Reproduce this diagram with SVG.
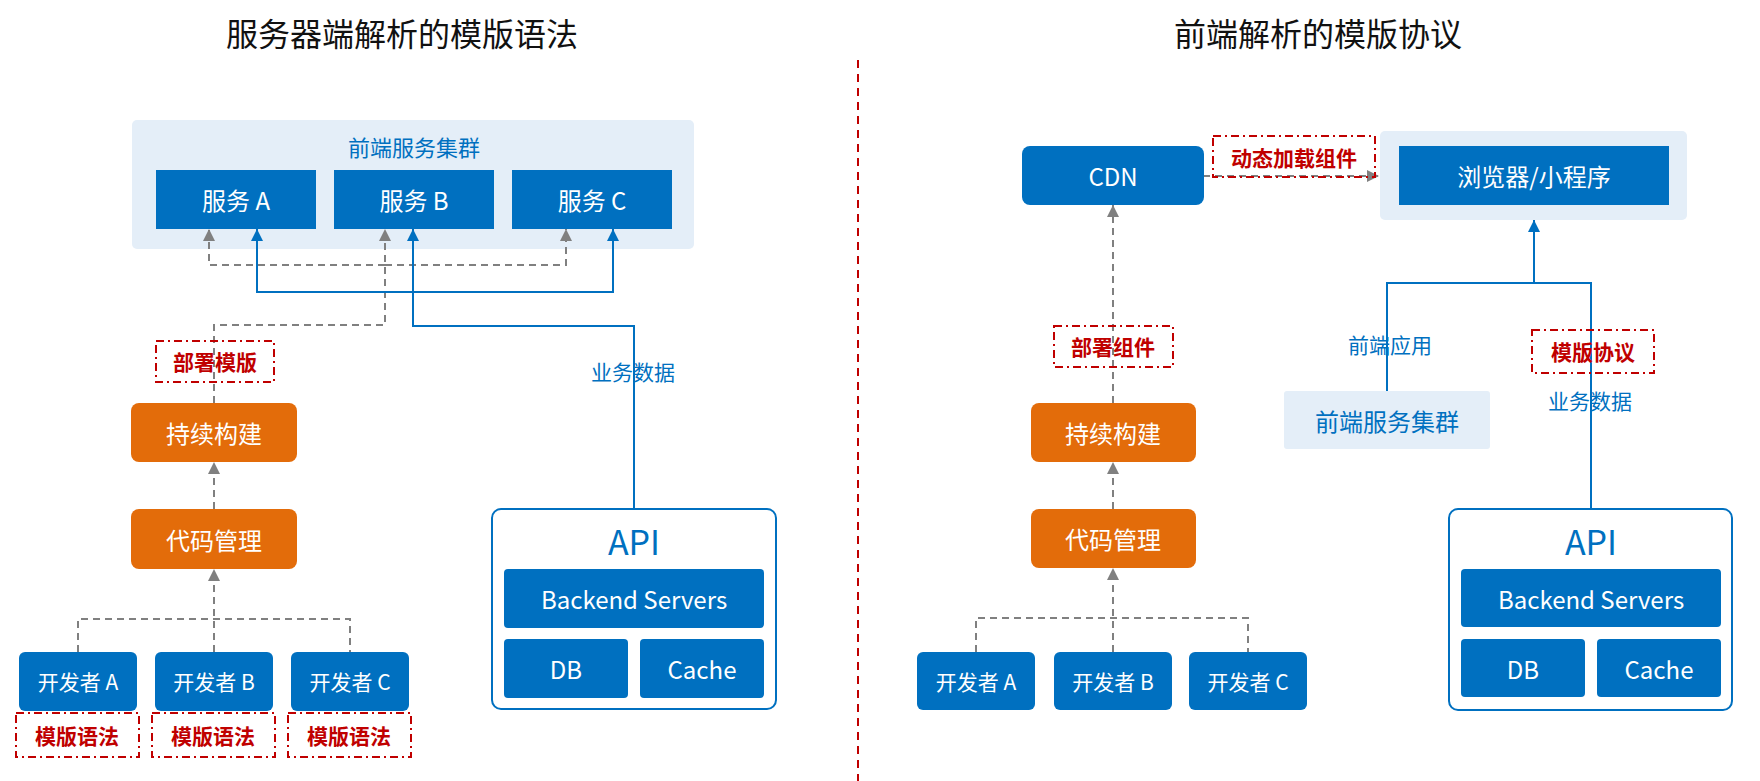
<svg xmlns="http://www.w3.org/2000/svg" width="1760" height="781" viewBox="0 0 1760 781">
<style>
text{font-family:"Noto Sans CJK SC","Noto Sans",sans-serif;text-anchor:middle;dominant-baseline:central}
.title{font-size:32px;fill:#111}
.blue{fill:#0070C0}
.orange{fill:#E36C0A}
.cluster{fill:#E4EEF8}
.wt{fill:#fff;font-size:24px}
.wt20{fill:#fff;font-size:21px}
.bt{fill:#0070C0;font-size:21px}
.red{fill:none;stroke:#C00000;stroke-width:2;stroke-dasharray:8 4 2 4}
.rt{fill:#C00000;font-size:21px;font-weight:bold}
.g{fill:none;stroke:#808080;stroke-width:2;stroke-dasharray:7 5}
.b{fill:none;stroke:#0070C0;stroke-width:2}
</style>
<defs>
<marker id="ag" viewBox="0 0 10 10" refX="10" refY="5" markerWidth="13" markerHeight="12" markerUnits="userSpaceOnUse" orient="auto"><path d="M0,0 L10,5 L0,10 z" fill="#808080"/></marker>
<marker id="ab" viewBox="0 0 10 10" refX="10" refY="5" markerWidth="13" markerHeight="12" markerUnits="userSpaceOnUse" orient="auto"><path d="M0,0 L10,5 L0,10 z" fill="#0070C0"/></marker>
</defs>
<rect width="1760" height="781" fill="#fff"/>
<text class="title" x="402" y="32">服务器端解析的模版语法</text>
<text class="title" x="1318" y="32">前端解析的模版协议</text>
<line x1="858" y1="60" x2="858" y2="781" stroke="#C00000" stroke-width="2" stroke-dasharray="8 6"/>

<g id="cluster-left">
<rect class="cluster" x="132" y="120" width="562" height="129" rx="5"/>
<text x="414" y="146" style="fill:#0070C0;font-size:22px">前端服务集群</text>
</g>
<g id="browser-cluster"><rect class="cluster" x="1380" y="131" width="307" height="89" rx="5"/></g>

<g id="connectors">
<path class="g" d="M214,403 V325 H385 V229" marker-end="url(#ag)"/>
<path class="g" d="M385,265 H209 V229" marker-end="url(#ag)"/>
<path class="g" d="M385,265 H566 V229" marker-end="url(#ag)"/>
<path class="b" d="M634,509 V326 H413 V229" marker-end="url(#ab)"/>
<path class="b" d="M413,292 H257 V229" marker-end="url(#ab)"/>
<path class="b" d="M413,292 H613 V229" marker-end="url(#ab)"/>
<path class="g" d="M214,509 V462" marker-end="url(#ag)"/>
<path class="g" d="M78,652 V619 H350 V652"/>
<path class="g" d="M214,652 V569" marker-end="url(#ag)"/>
<path class="g" d="M1113,403 V205" marker-end="url(#ag)"/>
<path class="g" d="M1113,509 V462" marker-end="url(#ag)"/>
<path class="g" d="M976,652 V618 H1248 V652"/>
<path class="g" d="M1113,652 V568" marker-end="url(#ag)"/>
<path class="g" d="M1203,176 H1379" marker-end="url(#ag)"/>
<path class="b" d="M1387,391 V283 H1591 V509"/>
<path class="b" d="M1534,283 V220" marker-end="url(#ab)"/>
<text class="bt" x="633" y="371">业务数据</text>
<text class="bt" x="1390" y="344">前端应用</text>
<text class="bt" x="1590" y="400">业务数据</text>
</g>

<g id="svc-a"><rect class="blue" x="156" y="170" width="160" height="59"/><text class="wt" x="236" y="199">服务 A</text></g>
<g id="svc-b"><rect class="blue" x="334" y="170" width="160" height="59"/><text class="wt" x="414" y="199">服务 B</text></g>
<g id="svc-c"><rect class="blue" x="512" y="170" width="160" height="59"/><text class="wt" x="592" y="199">服务 C</text></g>

<g id="label-deploy-tpl"><rect class="red" x="156" y="341" width="118" height="41"/><text class="rt" x="215" y="361">部署模版</text></g>
<g id="ci-left"><rect class="orange" x="131" y="403" width="166" height="59" rx="8"/><text class="wt" x="214" y="432">持续构建</text></g>
<g id="scm-left"><rect class="orange" x="131" y="509" width="166" height="60" rx="8"/><text class="wt" x="214" y="539">代码管理</text></g>

<g id="dev-a-left"><rect class="blue" x="19" y="652" width="118" height="59" rx="6"/><text class="wt20" x="78" y="681">开发者 A</text></g>
<g id="dev-b-left"><rect class="blue" x="155" y="652" width="118" height="59" rx="6"/><text class="wt20" x="214" y="681">开发者 B</text></g>
<g id="dev-c-left"><rect class="blue" x="291" y="652" width="118" height="59" rx="6"/><text class="wt20" x="350" y="681">开发者 C</text></g>
<g id="label-syntax-a"><rect class="red" x="16" y="713" width="123" height="44"/><text class="rt" x="77" y="735">模版语法</text></g>
<g id="label-syntax-b"><rect class="red" x="152" y="713" width="123" height="44"/><text class="rt" x="213" y="735">模版语法</text></g>
<g id="label-syntax-c"><rect class="red" x="288" y="713" width="123" height="44"/><text class="rt" x="349" y="735">模版语法</text></g>

<g id="api-left">
<rect x="492" y="509" width="284" height="200" rx="9" fill="#fff" stroke="#0070C0" stroke-width="2"/>
<text x="634" y="540" style="fill:#0070C0;font-size:34px">API</text>
<rect class="blue" x="504" y="569" width="260" height="59" rx="4"/><text class="wt" x="634" y="598">Backend Servers</text>
<rect class="blue" x="504" y="639" width="124" height="59" rx="4"/><text class="wt" x="566" y="668">DB</text>
<rect class="blue" x="640" y="639" width="124" height="59" rx="4"/><text class="wt" x="702" y="668">Cache</text>
</g>

<g id="cdn"><rect class="blue" x="1022" y="146" width="182" height="59" rx="8"/><text class="wt" x="1113" y="175">CDN</text></g>
<g id="label-dynamic"><rect class="red" x="1213" y="136" width="162" height="41"/><text class="rt" x="1294" y="157">动态加载组件</text></g>
<g id="browser"><rect class="blue" x="1399" y="146" width="270" height="59"/><text class="wt" x="1534" y="175">浏览器/小程序</text></g>

<g id="label-deploy-comp"><rect class="red" x="1054" y="326" width="119" height="41"/><text class="rt" x="1113" y="346">部署组件</text></g>
<g id="ci-right"><rect class="orange" x="1031" y="403" width="165" height="59" rx="8"/><text class="wt" x="1113" y="432">持续构建</text></g>
<g id="scm-right"><rect class="orange" x="1031" y="509" width="165" height="59" rx="8"/><text class="wt" x="1113" y="538">代码管理</text></g>
<g id="dev-a-right"><rect class="blue" x="917" y="652" width="118" height="58" rx="6"/><text class="wt20" x="976" y="681">开发者 A</text></g>
<g id="dev-b-right"><rect class="blue" x="1054" y="652" width="118" height="58" rx="6"/><text class="wt20" x="1113" y="681">开发者 B</text></g>
<g id="dev-c-right"><rect class="blue" x="1189" y="652" width="118" height="58" rx="6"/><text class="wt20" x="1248" y="681">开发者 C</text></g>

<g id="frontend-cluster-right"><rect class="cluster" x="1284" y="391" width="206" height="58" rx="3"/><text x="1387" y="420" style="fill:#0070C0;font-size:24px">前端服务集群</text></g>
<g id="label-protocol"><rect class="red" x="1532" y="330" width="122" height="43"/><text class="rt" x="1593" y="351">模版协议</text></g>

<g id="api-right">
<rect x="1449" y="509" width="283" height="201" rx="9" fill="#fff" stroke="#0070C0" stroke-width="2"/>
<text x="1591" y="540" style="fill:#0070C0;font-size:34px">API</text>
<rect class="blue" x="1461" y="569" width="260" height="58" rx="4"/><text class="wt" x="1591" y="598">Backend Servers</text>
<rect class="blue" x="1461" y="639" width="124" height="58" rx="4"/><text class="wt" x="1523" y="668">DB</text>
<rect class="blue" x="1597" y="639" width="124" height="58" rx="4"/><text class="wt" x="1659" y="668">Cache</text>
</g>
</svg>
